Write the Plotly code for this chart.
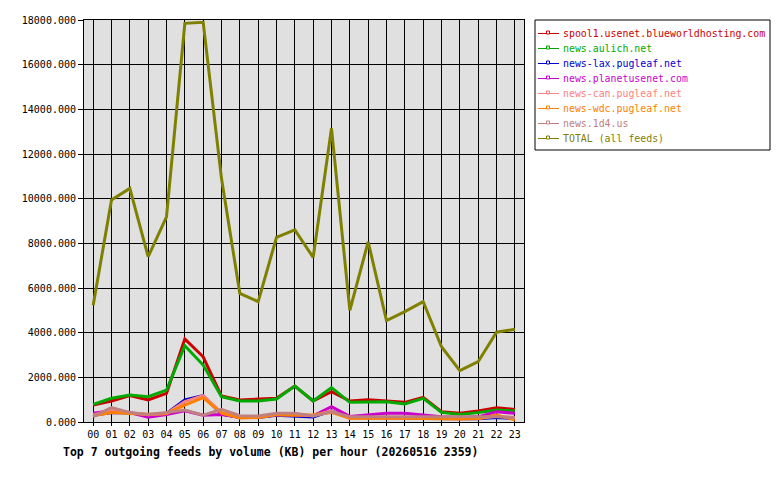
import plotly.graph_objects as go

hours = ["%02d" % h for h in range(24)]

series_names = [
    "spool1.usenet.blueworldhosting.com",
    "news.aulich.net",
    "news-lax.pugleaf.net",
    "news.planetusenet.com",
    "news-can.pugleaf.net",
    "news-wdc.pugleaf.net",
    "news.1d4.us",
    "TOTAL (all feeds)",
]
series_colors = ["#cc0000", "#00aa00", "#0000cc", "#cc00cc", "#ff8080", "#ff8000", "#c08080", "#808000"]

spool1 = [760, 940, 1180, 985, 1280, 3720, 2920, 1160, 985, 1030, 1060, 1610, 940, 1360, 940, 1000, 950, 880, 1100, 460, 390, 490, 640, 560]
aulich = [790, 1060, 1210, 1130, 1430, 3420, 2550, 1130, 940, 940, 1030, 1610, 940, 1540, 880, 900, 910, 810, 1060, 430, 340, 420, 540, 490]
lax = [300, 420, 400, 300, 380, 985, 1180, 350, 200, 200, 300, 260, 220, 500, 180, 200, 200, 180, 160, 150, 140, 150, 200, 150]
planet = [390, 500, 420, 210, 340, 500, 300, 340, 210, 210, 330, 330, 280, 690, 250, 310, 390, 390, 310, 240, 200, 230, 460, 390]
can = [300, 560, 420, 330, 380, 910, 1180, 420, 200, 200, 330, 330, 280, 500, 170, 200, 190, 170, 170, 150, 140, 160, 260, 200]
wdc = [280, 420, 380, 350, 380, 760, 1090, 400, 180, 200, 330, 300, 330, 430, 165, 180, 165, 165, 165, 150, 130, 160, 310, 100]
d4 = [240, 640, 430, 340, 430, 540, 310, 570, 280, 270, 390, 390, 270, 460, 240, 250, 240, 240, 240, 240, 220, 230, 240, 200]
total = [5230, 9940, 10460, 7400, 9190, 17850, 17900, 10900, 5760, 5390, 8270, 8600, 7370, 13150, 5000, 8070, 4540, 4940, 5390, 3370, 2300, 2700, 4020, 4150]

all_series = [spool1, aulich, lax, planet, can, wdc, d4, total]

title_text = "Top 7 outgoing feeds by volume (KB) per hour (20260516 2359)"

W, H = 780, 480
L, R, T, B = 84, 256, 20, 58
PW = W - L - R
PH = H - T - B

def px(x):
    return (x - L) / PW

def py(y):
    return (H - B - y) / PH

MONO = "DejaVu Sans Mono"

fig = go.Figure()
xs = list(range(24))
for name, color, vals in zip(series_names, series_colors, all_series):
    fig.add_trace(go.Scatter(
        x=xs, y=vals, mode="lines", name=name,
        line=dict(color=color, width=3),
        showlegend=False,
    ))

shapes = []
annotations = []

# legend box
lx0, lx1, ly0, ly1 = 535, 770, 20, 150
shapes.append(dict(type="rect", xref="paper", yref="paper",
                   x0=px(lx0), x1=px(lx1), y0=py(ly1), y1=py(ly0),
                   line=dict(color="black", width=1), fillcolor="white", layer="above"))
for i, (name, color) in enumerate(zip(series_names, series_colors)):
    yy = 33.5 + 15 * i
    shapes.append(dict(type="line", xref="paper", yref="paper",
                       x0=px(538), x1=px(559), y0=py(yy), y1=py(yy),
                       line=dict(color=color, width=1), layer="above"))
    shapes.append(dict(type="rect", xref="paper", yref="paper",
                       x0=px(546.5), x1=px(549.5), y0=py(yy + 0.5), y1=py(yy - 2.5),
                       line=dict(color=color, width=1), fillcolor="white", layer="above"))
    annotations.append(dict(xref="paper", yref="paper", x=px(560.5), y=py(yy),
                            xanchor="left", yanchor="middle", showarrow=False,
                            text=name, font=dict(family=MONO, size=9.9, color=color)))

annotations.append(dict(xref="paper", yref="paper", x=px(61), y=py(452),
                        xanchor="left", yanchor="middle", showarrow=False,
                        text="<b>" + title_text + "</b>",
                        font=dict(family=MONO, size=11.5, color="black")))

fig.update_layout(
    width=W, height=H,
    margin=dict(l=L, r=R, t=T, b=B, pad=0),
    paper_bgcolor="white",
    plot_bgcolor="#e0e0e0",
    showlegend=False,
    shapes=shapes,
    annotations=annotations,
    xaxis=dict(
        range=[-0.5, 23.5], tickmode="array", tickvals=xs, ticktext=hours,
        showgrid=True, gridcolor="black", gridwidth=1,
        showline=True, linecolor="black", linewidth=1, mirror=True,
        ticks="outside", ticklen=3, tickcolor="black",
        tickfont=dict(family=MONO, size=10, color="black"),
        zeroline=False, fixedrange=True,
    ),
    yaxis=dict(
        range=[0, 18000], tickmode="linear", tick0=0, dtick=2000, tickformat=".3f",
        showgrid=True, gridcolor="black", gridwidth=1,
        showline=True, linecolor="black", linewidth=1, mirror=True,
        ticks="outside", ticklen=5, tickcolor="black",
        tickfont=dict(family=MONO, size=10, color="black"),
        zeroline=False, fixedrange=True,
    ),
)

fig.write_html("out.html")
